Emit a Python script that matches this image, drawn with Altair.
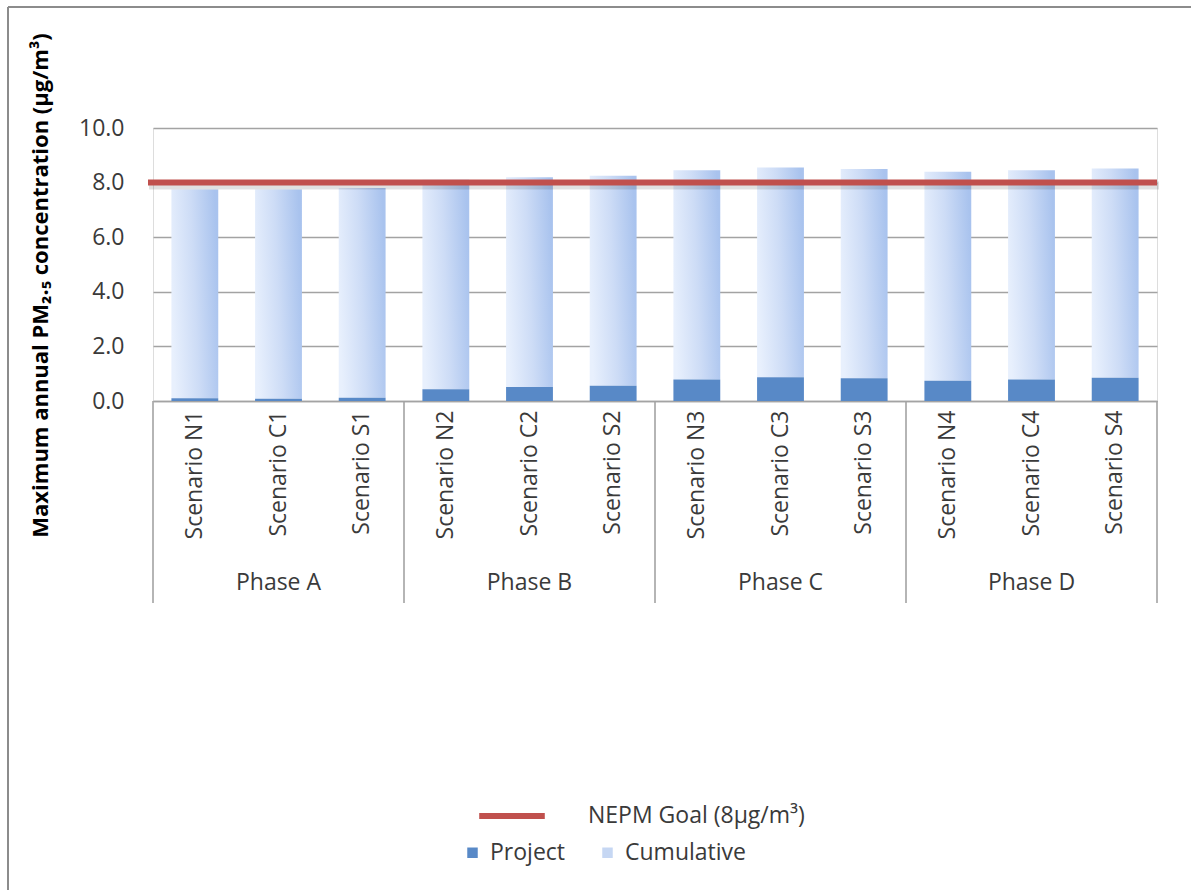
import altair as alt
import pandas as pd

# Scenarios grouped by construction phase
scenarios = [
    "Scenario N1", "Scenario C1", "Scenario S1",
    "Scenario N2", "Scenario C2", "Scenario S2",
    "Scenario N3", "Scenario C3", "Scenario S3",
    "Scenario N4", "Scenario C4", "Scenario S4",
]
phases = ["Phase A"] * 3 + ["Phase B"] * 3 + ["Phase C"] * 3 + ["Phase D"] * 3

# Maximum annual PM2.5 (µg/m³): project increment and cumulative remainder
project = [0.10, 0.08, 0.12, 0.43, 0.51, 0.56, 0.79, 0.87, 0.83, 0.74, 0.79, 0.85]
cumulative = [7.65, 7.67, 7.68, 7.67, 7.69, 7.69, 7.66, 7.68, 7.67, 7.66, 7.66, 7.67]

goal_value = 8.0
goal_label = "NEPM Goal (8µg/m³)"
y_ticks = [0, 2, 4, 6, 8, 10]

PROJECT_BLUE = "#5889c7"
CUMULATIVE_BLUE = "#c6d7f3"
GOAL_RED = "#c0504d"
GRID_GREY = "#a3a3a3"
TEXT = "#3a3a3a"
FONT = "Open Sans"
FS = 23

W, H = 1004, 273

df = pd.DataFrame({
    "scenario": scenarios,
    "phase": phases,
    "project": project,
    "cumulative": cumulative,
})
df["total"] = df["project"] + df["cumulative"]

x_scale = alt.Scale(paddingInner=0, paddingOuter=0)
x_axis = alt.Axis(
    title=None,
    labelAngle=270,
    labelAlign="right",
    labelBaseline="middle",
    labelPadding=9,
    labelFont=FONT,
    labelFontSize=FS,
    labelColor=TEXT,
    ticks=False,
    domainColor=GRID_GREY,
    domainWidth=1.6,
    grid=False,
)
x_enc = alt.X("scenario:N", sort=scenarios, scale=x_scale, axis=x_axis)

y_scale = alt.Scale(domain=[0, 10], nice=False)
y_axis = alt.Axis(
    title="Maximum annual PM₂.₅ concentration (µg/m³)",
    values=y_ticks,
    format=".1f",
    labelFont=FONT,
    labelFontSize=FS,
    labelColor=TEXT,
    labelPadding=29,
    ticks=False,
    domain=False,
    grid=True,
    gridColor=GRID_GREY,
    gridWidth=1.6,
    titleFont=FONT,
    titleFontSize=22,
    titleFontWeight="bold",
    titleColor="#000000",
    titleAngle=270,
    titleAlign="center",
    titleBaseline="middle",
    titleX=-113,
    titleY=157,
)

base = alt.Chart(df)

project_bars = base.mark_bar(
    width=alt.RelativeBandSize(0.56), color=PROJECT_BLUE
).encode(
    x=x_enc,
    y=alt.Y("project:Q", scale=y_scale, axis=y_axis),
)

cumulative_fill = {
    "gradient": "linear",
    "x1": 0, "y1": 0.6, "x2": 1, "y2": 0.4,
    "stops": [
        {"offset": 0, "color": "#e8f0fd"},
        {"offset": 0.5, "color": "#cddcf6"},
        {"offset": 1, "color": "#a9c3ee"},
    ],
}

cumulative_bars = base.mark_bar(
    width=alt.RelativeBandSize(0.56), fill=cumulative_fill
).encode(
    x=x_enc,
    y=alt.Y("project:Q", scale=y_scale, axis=y_axis),
    y2="total:Q",
)

# Legend entries for the two bar series
legend_df = pd.DataFrame({
    "scenario": [scenarios[0], scenarios[0]],
    "series": ["Project", "Cumulative"],
    "v": [0.0, 0.0],
})
series_legend = alt.Chart(legend_df).mark_bar(opacity=0).encode(
    x=x_enc,
    y=alt.Y("v:Q", scale=y_scale, axis=y_axis),
    fill=alt.Fill(
        "series:N",
        scale=alt.Scale(domain=["Project", "Cumulative"], range=[PROJECT_BLUE, CUMULATIVE_BLUE]),
        legend=alt.Legend(
            title=None,
            orient="none",
            direction="horizontal",
            legendX=308,
            legendY=713,
            symbolType="square",
            symbolSize=110,
            symbolOpacity=1,
            symbolStrokeWidth=0,
            labelOffset=6,
            columnPadding=30,
            labelFont=FONT,
            labelFontSize=FS,
            labelColor=TEXT,
            labelLimit=400,
            padding=0,
        ),
    ),
)

goal_df = pd.DataFrame({"goal": [goal_value], "label": [goal_label]})

goal_shadow = alt.Chart(goal_df).mark_rule(
    strokeWidth=8, color="#000000", opacity=0.12, yOffset=3
).encode(
    y=alt.Y("goal:Q", scale=y_scale, axis=y_axis),
    x=alt.value(-4),
    x2=alt.value(W + 2),
)

goal_line = alt.Chart(goal_df).mark_rule(strokeWidth=6).encode(
    y=alt.Y("goal:Q", scale=y_scale, axis=y_axis),
    x=alt.value(-5),
    x2=alt.value(W),
    stroke=alt.Stroke(
        "label:N",
        scale=alt.Scale(range=[GOAL_RED]),
        legend=alt.Legend(
            title=None,
            orient="none",
            legendX=323,
            legendY=652,
            symbolType="stroke",
            symbolSize=4300,
            symbolStrokeWidth=6,
            labelOffset=40,
            labelFont=FONT,
            labelFontSize=FS,
            labelColor=TEXT,
            labelLimit=400,
            padding=0,
        ),
    ),
)

# Phase grouping under the scenario labels
first_of_phase = df[df["scenario"].str.contains("N")]
last_of_chart = df[df["scenario"] == scenarios[-1]]
middle_of_phase = df[df["scenario"].str.contains("C")]

separators = alt.Chart(first_of_phase).mark_rule(color=GRID_GREY, strokeWidth=1.6).encode(
    x=alt.X("scenario:N", sort=scenarios, bandPosition=0, scale=x_scale, axis=x_axis),
    y=alt.value(H),
    y2=alt.value(H + 202),
)
end_separator = alt.Chart(last_of_chart).mark_rule(color=GRID_GREY, strokeWidth=1.6).encode(
    x=alt.X("scenario:N", sort=scenarios, bandPosition=1, scale=x_scale, axis=x_axis),
    y=alt.value(H),
    y2=alt.value(H + 202),
)

phase_text = alt.Chart(middle_of_phase).mark_text(
    font=FONT, fontSize=FS, color=TEXT, baseline="middle", align="center"
).encode(
    x=x_enc,
    y=alt.value(H + 182),
    text="phase:N",
)

# Outer frame of the figure
frame_df = pd.DataFrame({"k": [0]})
frame_top = alt.Chart(frame_df).mark_rule(color="#8c8c8c", strokeWidth=2).encode(
    x=alt.value(-145), x2=alt.value(1040), y=alt.value(-121)
)
frame_left = alt.Chart(frame_df).mark_rule(color="#8c8c8c", strokeWidth=2).encode(
    x=alt.value(-145), y=alt.value(-121), y2=alt.value(770)
)

chart = alt.layer(
    frame_top,
    frame_left,
    cumulative_bars,
    project_bars,
    series_legend,
    separators,
    end_separator,
    phase_text,
    goal_shadow,
    goal_line,
).properties(
    width=W,
    height=H,
    autosize=alt.AutoSizeParams(type="none"),
    padding={"left": 153, "top": 128, "right": 34, "bottom": 489},
).configure_view(
    stroke=None
).configure(
    background="white"
)

chart.save("out.html", embed_options={"renderer": "svg", "actions": False})
